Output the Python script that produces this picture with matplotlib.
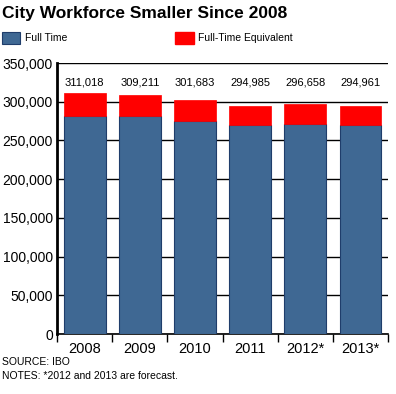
import matplotlib.pyplot as plt
import numpy as np

plt.rcParams['font.family'] = ['Liberation Sans', 'DejaVu Sans']

years = ["2008", "2009", "2010", "2011", "2012*", "2013*"]
full_time = [281500, 281500, 275000, 269500, 271500, 270000]
totals = [311018, 309211, 301683, 294985, 296658, 294961]
total_labels = ["311,018", "309,211", "301,683", "294,985", "296,658", "294,961"]

blue = "#3f6893"
red = "#ff0000"

fig = plt.figure(figsize=(3.96, 3.94), dpi=100)
ax = fig.add_axes([0.144, 0.152, 0.836, 0.688])

x = np.arange(len(years))
fte = [t - f for t, f in zip(totals, full_time)]

ax.bar(x, full_time, width=0.76, color=blue, edgecolor="#1f3d6b", linewidth=0.8, zorder=3)
ax.bar(x, fte, bottom=full_time, width=0.76, color=red, edgecolor=red, linewidth=0.5, zorder=3)

for xi, lab in zip(x, total_labels):
    ax.text(xi, 325000, lab, ha="center", va="center", fontsize=8, zorder=4)

ax.set_xlim(-0.5, len(years) - 0.5)
ax.set_ylim(0, 350000)
ax.set_yticks(np.arange(0, 350001, 50000))
ax.set_yticklabels([f"{v:,}" for v in range(0, 350001, 50000)], fontsize=10)
ax.yaxis.grid(True, color="black", linewidth=1, zorder=0)
ax.tick_params(axis="y", length=0, pad=3)

ax.set_xticks(np.arange(-0.5, len(years) - 0.5 + 0.01, 1))
ax.set_xticklabels([])
ax.set_xticks(x, minor=True)
ax.set_xticklabels(years, minor=True, fontsize=10.5)
ax.tick_params(axis="x", which="major", length=6, width=1, direction="out")
ax.tick_params(axis="x", which="minor", length=0, pad=6)

for s in ["top", "right"]:
    ax.spines[s].set_visible(False)
ax.spines["left"].set_linewidth(2)
ax.spines["bottom"].set_linewidth(1.2)

fig.text(0.005, 0.965, "City Workforce Smaller Since 2008", fontsize=12.5,
         fontweight="bold", va="center", ha="left")

# legend
fig.patches.append(plt.Rectangle((0.005, 0.888), 0.045, 0.03, transform=fig.transFigure,
                                 facecolor=blue, edgecolor="#1f3d6b", linewidth=0.8))
fig.text(0.063, 0.903, "Full Time", fontsize=7.5, va="center")
fig.patches.append(plt.Rectangle((0.443, 0.888), 0.047, 0.03, transform=fig.transFigure,
                                 facecolor=red, edgecolor=red))
fig.text(0.5, 0.903, "Full-Time Equivalent", fontsize=7.5, va="center")

fig.text(0.005, 0.082, "SOURCE: IBO", fontsize=7.5, va="center")
fig.text(0.005, 0.045, "NOTES: *2012 and 2013 are forecast.", fontsize=7.5, va="center")

plt.savefig("out.png", dpi=100)
